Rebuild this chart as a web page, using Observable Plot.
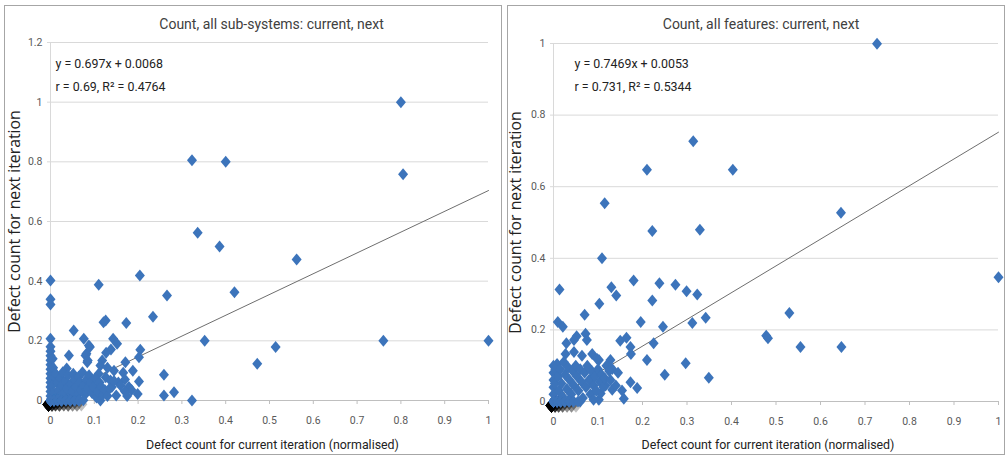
<!DOCTYPE html>
<html>
<head>
<meta charset="utf-8">
<script src="https://cdn.jsdelivr.net/npm/d3@7"></script>
<script src="https://cdn.jsdelivr.net/npm/@observablehq/plot@0.6"></script>
<style>
  body { margin: 0; background: #fff; width: 1007px; height: 456px; overflow: hidden; position: relative; }
  .panel { position: absolute; top: 5px; width: 496px; height: 448px; border: 1px solid #a6a6a6; background: #fff; }
  .panel svg { display: block; }
</style>
</head>
<body>
<div class="panel" id="subsystems" style="left:4px"></div>
<div class="panel" id="features" style="left:507px"></div>
<script>
// ---- Shared axis ticks ----
const xTicks = [0, 0.1, 0.2, 0.3, 0.4, 0.5, 0.6, 0.7, 0.8, 0.9, 1];
const subsystemYTicks = [0, 0.2, 0.4, 0.6, 0.8, 1, 1.2];
const featureYTicks = [0, 0.2, 0.4, 0.6, 0.8, 1];

const xTitle = "Defect count for current iteration (normalised)";
const yTitle = "Defect count for next iteration";

// ---- Sub-systems: [current, next] normalised defect counts ----
const subsystemTitle = "Count, all sub-systems: current, next";
const subsystemFit = { slope: 0.697, intercept: 0.0068, r: 0.69, r2: 0.4764 };
const subsystemPoints = [
  [0.80, 1.00], [0.323, 0.805], [0.40, 0.80], [0.805, 0.758], [0.336, 0.562], [0.386, 0.516],
  [0.562, 0.473], [0.0, 0.402], [0.204, 0.419], [0.110, 0.388], [0.42, 0.363], [0.0, 0.339],
  [0.0, 0.322], [0.266, 0.352], [0.234, 0.281], [0.126, 0.268], [0.121, 0.262], [0.173, 0.26],
  [0.053, 0.235], [0.352, 0.20], [0.76, 0.20], [1.0, 0.20], [0.514, 0.179], [0.472, 0.123],
  [0.259, 0.086], [0.259, 0.017], [0.282, 0.028], [0.323, 0.0],
  [0.0, 0.207], [0.076, 0.207], [0.09, 0.179], [0.042, 0.151], [0.143, 0.207], [0.152, 0.19],
  [0.138, 0.171], [0.205, 0.17], [0.202, 0.145], [0.171, 0.128], [0.188, 0.10], [0.202, 0.064],
  [0.199, 0.022], [0.179, 0.045], [0.15, 0.017], [0.114, 0.0], [0.084, 0.128], [0.082, 0.157],
  [0.118, 0.134], [0.114, 0.117], [0.126, 0.078], [0.137, 0.067], [0.166, 0.093], [0.107, 0.045],
  [0.091, 0.034], [0.057, 0.078], [0.08, 0.151], [0.0875, 0.184], [0.037, 0.107], [0.127, 0.16],
  [0.13, 0.11], [0.145, 0.1], [0.11, 0.09], [0.17, 0.07], [0.155, 0.06], [0.185, 0.035],
  [0.085, 0.134], [0.14, 0.045],
  [0, 0.18], [0, 0.165], [0, 0.15], [0, 0.135], [0, 0.12], [0, 0.105], [0, 0.09], [0, 0.075],
  [0, 0.06], [0, 0.045], [0, 0.03], [0, 0.015], [0.005, 0.14], [0.006, 0.11], [0.008, 0.08],
  [0.004, 0.05], [0.007, 0.025],
  [0.012, 0.09], [0.015, 0.06], [0.018, 0.035], [0.02, 0.012], [0.022, 0.075], [0.026, 0.05],
  [0.028, 0.095], [0.031, 0.025], [0.034, 0.065], [0.037, 0.04], [0.04, 0.085], [0.043, 0.01],
  [0.046, 0.055], [0.049, 0.03], [0.052, 0.09], [0.055, 0.07], [0.058, 0.045], [0.061, 0.015],
  [0.064, 0.08], [0.067, 0.06], [0.07, 0.035], [0.073, 0.095], [0.076, 0.05], [0.079, 0.02],
  [0.082, 0.07], [0.085, 0.04], [0.088, 0.085], [0.092, 0.06], [0.095, 0.025], [0.098, 0.045],
  [0.102, 0.075], [0.105, 0.01], [0.108, 0.03], [0.112, 0.06], [0.116, 0.045], [0.12, 0.02],
  [0.124, 0.035], [0.13, 0.015], [0.135, 0.04], [0.145, 0.065], [0.16, 0.05], [0.17, 0.03],
  [0.175, 0.015]
];
// Sub-systems sitting on (or right next to) zero: [current, next, how many]
const subsystemZeroStack = [
  [0, 0, 24], [0.008, 0, 6], [0.016, 0.001, 5], [0.025, 0, 4], [0.035, 0.001, 3],
  [0.045, 0, 3], [0.055, 0, 2], [0.065, 0, 2], [0.075, 0.001, 1]
];

// ---- Features: [current, next] normalised defect counts ----
const featureTitle = "Count, all features: current, next";
const featureFit = { slope: 0.7469, intercept: 0.0053, r: 0.731, r2: 0.5344 };
const featurePoints = [
  [0.727, 0.999], [0.314, 0.727], [0.21, 0.647], [0.403, 0.647], [0.115, 0.554], [0.646, 0.527],
  [0.222, 0.476], [0.329, 0.48], [0.109, 0.40], [1.0, 0.347], [0.0135, 0.313], [0.18, 0.338],
  [0.238, 0.33], [0.274, 0.326], [0.299, 0.308], [0.323, 0.299], [0.13, 0.319], [0.141, 0.296],
  [0.103, 0.273], [0.222, 0.282], [0.07, 0.242], [0.0097, 0.222], [0.021, 0.209], [0.196, 0.222],
  [0.246, 0.209], [0.312, 0.219], [0.342, 0.234], [0.53, 0.247], [0.478, 0.184], [0.482, 0.177],
  [0.555, 0.152], [0.647, 0.152], [0.072, 0.189], [0.075, 0.172], [0.052, 0.182], [0.046, 0.172],
  [0.029, 0.163], [0.15, 0.17], [0.164, 0.178], [0.173, 0.152], [0.174, 0.133], [0.225, 0.163],
  [0.21, 0.116], [0.297, 0.107], [0.25, 0.075], [0.349, 0.066], [0.046, 0.138], [0.027, 0.133],
  [0.064, 0.128], [0.087, 0.133], [0.128, 0.116], [0.102, 0.116], [0.132, 0.091], [0.119, 0.1],
  [0.173, 0.054], [0.188, 0.038], [0.154, 0.031], [0.158, 0.008], [0.132, 0.033], [0.117, 0.045],
  [0.102, 0.005], [0.106, 0.022], [0.083, 0.063], [0.098, 0.119], [0.008, 0.105],
  [0, 0.1], [0, 0.08], [0, 0.06], [0, 0.04], [0, 0.02], [0.004, 0.09], [0.003, 0.05],
  [0.01, 0.07], [0.012, 0.03], [0.015, 0.09], [0.018, 0.05], [0.02, 0.015], [0.023, 0.11],
  [0.026, 0.075], [0.03, 0.035], [0.033, 0.095], [0.036, 0.06], [0.04, 0.02], [0.043, 0.085],
  [0.046, 0.045], [0.05, 0.1], [0.053, 0.07], [0.056, 0.03], [0.06, 0.09], [0.063, 0.055],
  [0.066, 0.01], [0.07, 0.08], [0.073, 0.04], [0.076, 0.1], [0.08, 0.06], [0.083, 0.02],
  [0.086, 0.085], [0.09, 0.045], [0.093, 0.07], [0.096, 0.03], [0.1, 0.09], [0.104, 0.055],
  [0.108, 0.075], [0.112, 0.04], [0.115, 0.065], [0.125, 0.085], [0.128, 0.06], [0.145, 0.08],
  [0.14, 0.045], [0.09, 0.005], [0.06, 0.0], [0.035, 0.005]
];
const featureZeroStack = [
  [0, 0, 24], [0.008, 0, 6], [0.016, 0, 4], [0.025, 0, 3], [0.035, 0, 2], [0.045, 0, 2], [0.055, 0, 1]
];

// ---- Styling ----
const textFont = "Roboto, 'Liberation Sans', sans-serif";
const labelFont = "'Open Sans', 'DejaVu Sans', sans-serif";
const markerBlue = "#3c74bb";

// Excel-style diamond: a little taller than it is wide
const diamond = {
  draw(context, size) {
    const r = Math.sqrt(size / Math.PI);
    const h = r * 1.2, w = r * 1.0;
    context.moveTo(0, -h);
    context.lineTo(w, 0);
    context.lineTo(0, h);
    context.lineTo(-w, 0);
    context.closePath();
  }
};

const expand = (stack) => stack.flatMap(([current, next, n]) => Array.from({length: n}, () => ({current, next})));

function scatter({title, points, zeroStack, fit, yTicks, margin, offsets}) {
  const stacked = expand(zeroStack);
  const data = points.map(([current, next]) => ({current, next})).concat(stacked);
  const fitLine = [0, 1].map((current) => ({current, next: fit.slope * current + fit.intercept}));
  const stats = [`y = ${fit.slope}x + ${fit.intercept}\nr = ${fit.r}, R\u00B2 = ${fit.r2}`];

  return Plot.plot({
    width: 496,
    height: 448,
    ...margin,
    style: {fontFamily: textFont, fontSize: "10.5px", color: "#595959", background: "transparent", overflow: "visible"},
    x: {domain: [0, 1], label: null},
    y: {domain: [0, yTicks[yTicks.length - 1]], label: null},
    marks: [
      Plot.gridY(yTicks.filter((d) => d > 0), {stroke: "#d9d9d9", strokeOpacity: 1}),
      Plot.ruleX([0], {stroke: "#d9d9d9"}),
      Plot.axisY({ticks: yTicks, tickSize: 3, tickPadding: 5, stroke: "#d9d9d9", tickFormat: (d) => String(d), label: null}),
      Plot.ruleY([0], {stroke: "#bfbfbf"}),
      Plot.axisX({ticks: xTicks, tickSize: 4, tickPadding: 12, stroke: "#bfbfbf", tickFormat: (d) => String(d), label: null}),
      // marker shadows pile up into a dark smudge where many items sit at zero
      Plot.dot(stacked, {x: "current", y: "next", symbol: diamond, r: 6, fill: "#000", fillOpacity: 0.25, dx: -2, dy: 4}),
      Plot.line(fitLine, {x: "current", y: "next", stroke: "#6e6e6e", strokeWidth: 1}),
      Plot.dot(data, {x: "current", y: "next", symbol: diamond, r: 5, fill: markerBlue}),
      Plot.text([title], {frameAnchor: "top", textAnchor: "middle", lineAnchor: "middle", dx: offsets.titleDx, dy: offsets.titleDy, fontSize: 14, fill: "#404040"}),
      Plot.text(stats, {frameAnchor: "top-left", textAnchor: "start", lineAnchor: "middle", dx: offsets.statsDx, dy: offsets.statsDy, fontSize: 12.4, lineHeight: 1.85, fill: "#222"}),
      Plot.text([xTitle], {frameAnchor: "bottom", textAnchor: "middle", lineAnchor: "middle", dx: offsets.xTitleDx, dy: offsets.xTitleDy, fontSize: 12.4, fill: "#222"}),
      Plot.text([yTitle], {frameAnchor: "left", textAnchor: "middle", lineAnchor: "middle", rotate: -90, dx: offsets.yTitleDx, fontSize: 15.8, fontFamily: labelFont, fill: "#222"})
    ]
  });
}

document.getElementById("subsystems").append(scatter({
  title: subsystemTitle,
  points: subsystemPoints,
  zeroStack: subsystemZeroStack,
  fit: subsystemFit,
  yTicks: subsystemYTicks,
  margin: {marginLeft: 45, marginRight: 13, marginTop: 36, marginBottom: 54},
  offsets: {titleDx: 2, titleDy: -18, statsDx: 5, statsDy: 29.5, xTitleDx: 3, xTitleDy: 45, yTitleDx: -36}
}));

document.getElementById("features").append(scatter({
  title: featureTitle,
  points: featurePoints,
  zeroStack: featureZeroStack,
  fit: featureFit,
  yTicks: featureYTicks,
  margin: {marginLeft: 45, marginRight: 6, marginTop: 37, marginBottom: 53},
  offsets: {titleDx: -15, titleDy: -19, statsDx: 21, statsDy: 28.5, xTitleDx: -8, xTitleDy: 44, yTitleDx: -38}
}));
</script>
</body>
</html>
